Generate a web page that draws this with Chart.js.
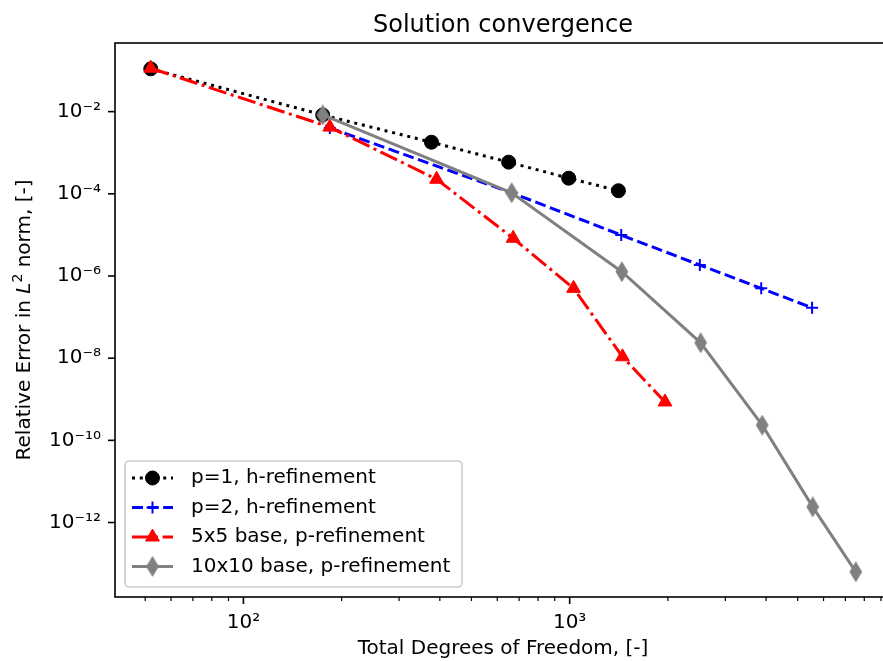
<!DOCTYPE html>
<html>
<head>
<meta charset="utf-8">
<script src="https://cdn.jsdelivr.net/npm/chart.js@4.4.0/dist/chart.umd.min.js"></script>
<style>
  html, body { margin: 0; padding: 0; overflow: hidden; background: #fff; }
  #wrap { width: 900px; height: 661px; }
</style>
</head>
<body>
<div id="wrap"><canvas id="chart" width="900" height="661"></canvas></div>
<script>
// values
var seriesNames = ['p=1, h-refinement', 'p=2, h-refinement', '5x5 base, p-refinement', '10x10 base, p-refinement'];

var dofP1 = [52, 175, 377, 650, 993, 1411];
var errP1 = [0.11, 8.3e-3, 1.8e-3, 5.9e-4, 2.4e-4, 1.19e-4];

var dofP2 = [184, 664, 1439, 2506, 3865, 5535];
var errP2 = [4.0e-3, 1.06e-4, 9.9e-6, 1.85e-6, 5.0e-7, 1.68e-7];

var dof5 = [52, 184, 391, 671, 1028, 1452, 1960];
var err5 = [0.114, 4.2e-3, 2.26e-4, 8.3e-6, 5.0e-7, 1.08e-8, 8.6e-10];

var dof10 = [175, 664, 1445, 2521, 3893, 5559, 7534];
var err10 = [8.3e-3, 1.06e-4, 1.27e-6, 2.37e-8, 2.34e-10, 2.4e-12, 6.3e-14];

var xTicks = [50, 60, 70, 80, 90, 100, 200, 300, 400, 500, 600, 700, 800, 900,
              1000, 2000, 3000, 4000, 5000, 6000, 7000, 8000, 9000];
var yTicks = [1e-2, 1e-4, 1e-6, 1e-8, 1e-10, 1e-12];

var xMin = 40.4, xMax = 9660;
var yMin = 1.54e-14, yMax = 0.468;

var FONT = '"DejaVu Sans"';
var sup = {'0':'\u2070','1':'\u00B9','2':'\u00B2','3':'\u00B3','4':'\u2074','5':'\u2075',
           '6':'\u2076','7':'\u2077','8':'\u2078','9':'\u2079','-':'\u207B'};

function isPow10(v){
  var l = Math.log10(v);
  return Math.abs(l - Math.round(l)) < 1e-9;
}
function powLabel(v){
  var e = String(Math.round(Math.log10(v)));
  return '10' + e.split('').map(function(c){ return sup[c]; }).join('');
}
function pts(xs, ys){
  return xs.map(function(x, i){ return {x: x, y: ys[i]}; });
}

// thin diamond marker like matplotlib 'd'
function makeDiamond(color){
  var c = document.createElement('canvas');
  c.width = 14; c.height = 21;
  var g = c.getContext('2d');
  g.beginPath();
  g.moveTo(7, 1.5); g.lineTo(12.5, 10.5); g.lineTo(7, 19.5); g.lineTo(1.5, 10.5);
  g.closePath();
  g.fillStyle = color; g.fill();
  g.strokeStyle = color; g.lineWidth = 1.5; g.stroke();
  return c;
}

function drawMarker(ctx, ds, x, y){
  var st = ds.pointStyle, r = ds.pointRadius;
  ctx.save();
  ctx.setLineDash([]);
  ctx.fillStyle = ds.pointBackgroundColor;
  ctx.strokeStyle = ds.pointBorderColor;
  ctx.lineWidth = ds.pointBorderWidth;
  ctx.beginPath();
  if (st instanceof HTMLCanvasElement) {
    ctx.drawImage(st, x - st.width / 2, y - st.height / 2);
  } else if (st === 'circle') {
    ctx.arc(x, y, r, 0, Math.PI * 2);
    ctx.fill(); ctx.stroke();
  } else if (st === 'triangle') {
    for (var k = 0; k < 3; k++) {
      var a = k * 2 * Math.PI / 3;
      var px = x + Math.sin(a) * r, py = y - Math.cos(a) * r;
      if (k === 0) ctx.moveTo(px, py); else ctx.lineTo(px, py);
    }
    ctx.closePath(); ctx.fill(); ctx.stroke();
  } else if (st === 'cross') {
    ctx.moveTo(x - r, y); ctx.lineTo(x + r, y);
    ctx.moveTo(x, y - r); ctx.lineTo(x, y + r);
    ctx.stroke();
  }
  ctx.restore();
}

var framePlugin = {
  id: 'frame',
  afterDraw: function(chart){
    var ctx = chart.ctx, a = chart.chartArea;
    var xs = chart.scales.x, ys = chart.scales.y;
    ctx.save();
    ctx.strokeStyle = '#000';
    ctx.setLineDash([]);

    // ticks (outside)
    xs.ticks.forEach(function(t){
      var px = xs.getPixelForValue(t.value);
      var major = isPow10(t.value);
      ctx.lineWidth = major ? 1.6 : 1.2;
      ctx.beginPath();
      ctx.moveTo(px, a.bottom);
      ctx.lineTo(px, a.bottom + (major ? 7 : 4));
      ctx.stroke();
    });
    ys.ticks.forEach(function(t){
      var py = ys.getPixelForValue(t.value);
      ctx.lineWidth = 1.6;
      ctx.beginPath();
      ctx.moveTo(a.left, py);
      ctx.lineTo(a.left - 7, py);
      ctx.stroke();
    });

    // spines
    ctx.lineWidth = 1.6;
    ctx.strokeRect(a.left, a.top, a.right - a.left, a.bottom - a.top);

    // titles
    var cx = (a.left + a.right) / 2, cy = (a.top + a.bottom) / 2;
    ctx.fillStyle = '#000';
    ctx.textBaseline = 'alphabetic';
    ctx.textAlign = 'center';
    ctx.font = '24px ' + FONT;
    ctx.fillText('Solution convergence', cx, 32);
    ctx.font = '20px ' + FONT;
    ctx.fillText('Total Degrees of Freedom, [-]', cx, 654);

    // y label with italic L and superscript 2
    var parts = [
      {t: 'Relative Error in ', f: '20px ' + FONT, dy: 0},
      {t: 'L', f: 'italic 20px ' + FONT, dy: 0},
      {t: '2', f: '14px ' + FONT, dy: -8},
      {t: ' norm, [-]', f: '20px ' + FONT, dy: 0}
    ];
    var total = 0;
    parts.forEach(function(p){ ctx.font = p.f; p.w = ctx.measureText(p.t).width; total += p.w; });
    ctx.translate(30, cy);
    ctx.rotate(-Math.PI / 2);
    ctx.textAlign = 'left';
    var xx = -total / 2;
    parts.forEach(function(p){
      ctx.font = p.f;
      ctx.fillText(p.t, xx, p.dy);
      xx += p.w;
    });
    ctx.restore();

    // legend box
    ctx.save();
    var bx = 125, by = 461, bw = 337, bh = 126, rr = 4;
    ctx.beginPath();
    ctx.moveTo(bx + rr, by);
    ctx.arcTo(bx + bw, by, bx + bw, by + bh, rr);
    ctx.arcTo(bx + bw, by + bh, bx, by + bh, rr);
    ctx.arcTo(bx, by + bh, bx, by, rr);
    ctx.arcTo(bx, by, bx + bw, by, rr);
    ctx.closePath();
    ctx.fillStyle = 'rgba(255,255,255,0.8)';
    ctx.fill();
    ctx.strokeStyle = '#cccccc';
    ctx.lineWidth = 1.6;
    ctx.stroke();

    var datasets = chart.data.datasets;
    datasets.forEach(function(ds, i){
      var y = 478 + i * 29.5;
      ctx.save();
      ctx.strokeStyle = ds.borderColor;
      ctx.lineWidth = ds.borderWidth;
      ctx.setLineDash(ds.borderDash || []);
      ctx.beginPath();
      ctx.moveTo(132, y);
      ctx.lineTo(173, y);
      ctx.stroke();
      ctx.restore();
      drawMarker(ctx, ds, 152.5, y);
      ctx.fillStyle = '#000';
      ctx.font = '20px ' + FONT;
      ctx.textAlign = 'left';
      ctx.textBaseline = 'middle';
      ctx.fillText(ds.label, 191, y);
    });
    ctx.restore();
  }
};

var ctx = document.getElementById('chart');
var chart = new Chart(ctx, {
  type: 'scatter',
  data: {
    datasets: [
      {
        label: seriesNames[0], data: pts(dofP1, errP1), showLine: true,
        borderColor: '#000000', borderWidth: 3, borderDash: [3, 4.8],
        pointStyle: 'circle', pointRadius: 7, pointHoverRadius: 7,
        pointBackgroundColor: '#000000', pointBorderColor: '#000000', pointBorderWidth: 1,
        order: 4
      },
      {
        label: seriesNames[1], data: pts(dofP2, errP2), showLine: true,
        borderColor: '#0000ff', borderWidth: 3, borderDash: [11, 4.6],
        pointStyle: 'cross', pointRadius: 6, pointHoverRadius: 6,
        pointBackgroundColor: '#0000ff', pointBorderColor: '#0000ff', pointBorderWidth: 2,
        order: 3
      },
      {
        label: seriesNames[2], data: pts(dof5, err5), showLine: true,
        borderColor: '#ff0000', borderWidth: 3, borderDash: [18.4, 4.6, 3, 4.6],
        pointStyle: 'triangle', pointRadius: 8, pointHoverRadius: 8,
        pointBackgroundColor: '#ff0000', pointBorderColor: '#ff0000', pointBorderWidth: 1,
        order: 2
      },
      {
        label: seriesNames[3], data: pts(dof10, err10), showLine: true,
        borderColor: '#808080', borderWidth: 3,
        pointStyle: makeDiamond('#808080'), pointRadius: 8, pointHoverRadius: 8,
        pointBackgroundColor: '#808080', pointBorderColor: '#808080', pointBorderWidth: 1,
        order: 1
      }
    ]
  },
  options: {
    responsive: false,
    animation: false,
    events: [],
    layout: { padding: { top: 43, right: 7, left: 0, bottom: 0 } },
    plugins: {
      legend: { display: false },
      title: { display: false },
      tooltip: { enabled: false }
    },
    scales: {
      x: {
        type: 'logarithmic',
        min: xMin, max: xMax,
        afterBuildTicks: function(s){ s.ticks = xTicks.map(function(v){ return {value: v}; }); },
        afterFit: function(s){ s.height = 64; },
        grid: { display: false, drawTicks: false },
        border: { display: false },
        ticks: {
          autoSkip: false, maxRotation: 0, minRotation: 0, padding: 14,
          color: '#000', font: { family: FONT, size: 20 },
          callback: function(v){ return isPow10(v) ? powLabel(v) : ''; }
        }
      },
      y: {
        type: 'logarithmic',
        min: yMin, max: yMax,
        afterBuildTicks: function(s){ s.ticks = yTicks.map(function(v){ return {value: v}; }); },
        afterFit: function(s){ s.width = 115; },
        grid: { display: false, drawTicks: false },
        border: { display: false },
        ticks: {
          autoSkip: false, padding: 14,
          color: '#000', font: { family: FONT, size: 20 },
          callback: function(v){ return powLabel(v); }
        }
      }
    }
  },
  plugins: [framePlugin]
});
</script>
</body>
</html>
